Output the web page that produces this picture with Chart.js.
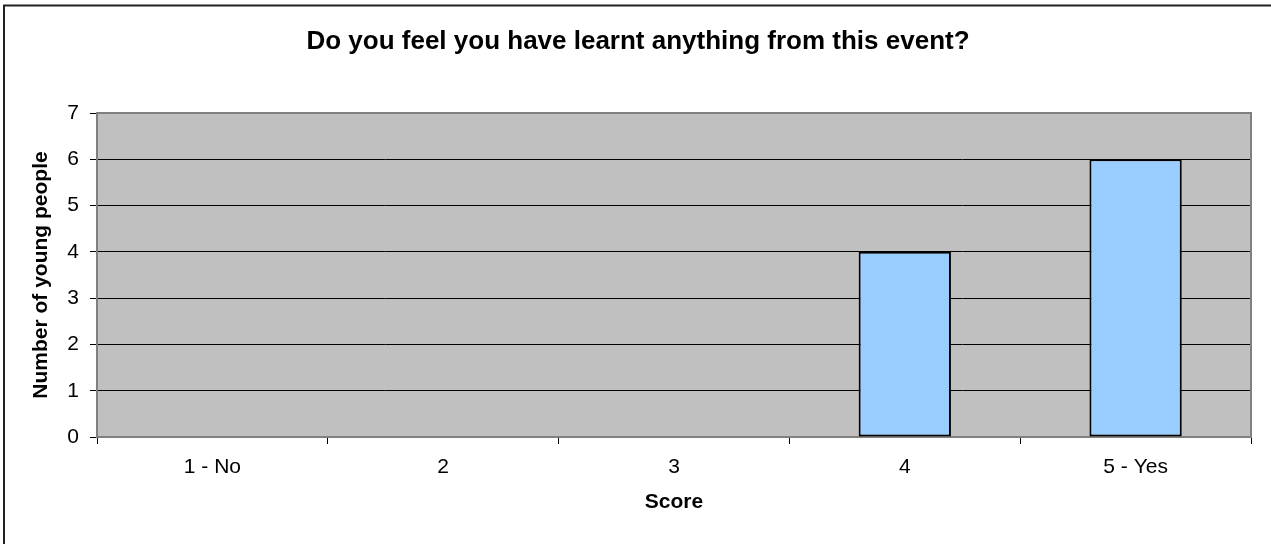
<!DOCTYPE html>
<html>
<head>
<meta charset="utf-8">
<script src="https://cdn.jsdelivr.net/npm/chart.js@4/dist/chart.umd.min.js"></script>
<style>
  html, body { margin: 0; padding: 0; background: #fff; }
  #wrap { width: 1271px; height: 544px; }
</style>
</head>
<body>
<div id="wrap"><canvas id="myChart" width="1271" height="544"></canvas></div>
<script>
// chart data
const chartTitle = 'Do you feel you have learnt anything from this event?';
const scoreLabels = ['1 - No', '2', '3', '4', '5 - Yes'];
const youngPeople = [0, 0, 0, 4, 6];
const yMin = 0;
const yMax = 7;
const yStep = 1;
const xTitle = 'Score';
const yTitle = 'Number of young people';

const FONT = "'Liberation Sans', Arial, Helvetica, sans-serif";

// gray plot area + outer frame, drawn before the grid / bars
const plotFrame = {
  id: 'plotFrame',
  beforeDraw(chart) {
    const { ctx, chartArea: a } = chart;
    ctx.save();
    ctx.fillStyle = '#fff';
    ctx.fillRect(0, 0, chart.width, chart.height);
    // outer frame (only left and top edges are inside the picture)
    ctx.strokeStyle = '#222';
    ctx.lineWidth = 2;
    ctx.strokeRect(4, 5.5, chart.width + 20, chart.height + 20);
    ctx.fillStyle = '#C0C0C0';
    ctx.fillRect(a.left, a.top, a.right - a.left, a.bottom - a.top);
    ctx.restore();
  },
  beforeDatasetsDraw(chart) {
    const { ctx, chartArea: a } = chart;
    ctx.save();
    ctx.strokeStyle = '#808080';
    ctx.lineWidth = 2;
    ctx.strokeRect(a.left, a.top, a.right - a.left, a.bottom - a.top);
    ctx.restore();
  }
};

const ctx = document.getElementById('myChart').getContext('2d');
new Chart(ctx, {
  type: 'bar',
  data: {
    labels: scoreLabels,
    datasets: [{
      data: youngPeople,
      backgroundColor: '#99CCFF',
      borderColor: '#000',
      borderWidth: 2,
      borderSkipped: false,
      barPercentage: 0.4,
      categoryPercentage: 1
    }]
  },
  options: {
    responsive: false,
    animation: false,
    // left padding only shifts the title centre a little to the right
    layout: { padding: { left: 25, right: 20, top: 0, bottom: 0 } },
    plugins: {
      legend: { display: false },
      tooltip: { enabled: false },
      title: {
        display: true,
        text: chartTitle,
        color: '#000',
        font: { family: FONT, size: 26, weight: 'bold' },
        padding: { top: 26, bottom: 55.8 }
      }
    },
    scales: {
      x: {
        offset: true,
        grid: {
          display: true,
          offset: true,
          drawOnChartArea: false,
          drawTicks: true,
          tickLength: 7,
          tickColor: '#000'
        },
        border: { display: false },
        ticks: {
          color: '#000',
          padding: 11,
          maxRotation: 0,
          font: { family: FONT, size: 21 }
        },
        title: {
          display: true,
          text: xTitle,
          color: '#000',
          font: { family: FONT, size: 21, weight: 'bold' },
          padding: { top: 0, bottom: 29 }
        },
        afterFit(scale) { scale.height = 107; }
      },
      y: {
        min: yMin,
        max: yMax,
        grid: {
          color: c => (c.tick && (c.tick.value === yMin || c.tick.value === yMax)) ? 'rgba(0,0,0,0)' : '#000',
          lineWidth: 1,
          drawTicks: true,
          tickLength: 7,
          tickColor: '#000'
        },
        border: { display: false },
        ticks: {
          stepSize: yStep,
          color: '#000',
          padding: 11,
          font: { family: FONT, size: 21 }
        },
        title: {
          display: true,
          text: yTitle,
          color: '#000',
          font: { family: FONT, size: 21, weight: 'bold' },
          padding: { top: 4, bottom: 0 }
        },
        afterFit(scale) { scale.width = 72; }
      }
    }
  },
  plugins: [plotFrame]
});
</script>
</body>
</html>
